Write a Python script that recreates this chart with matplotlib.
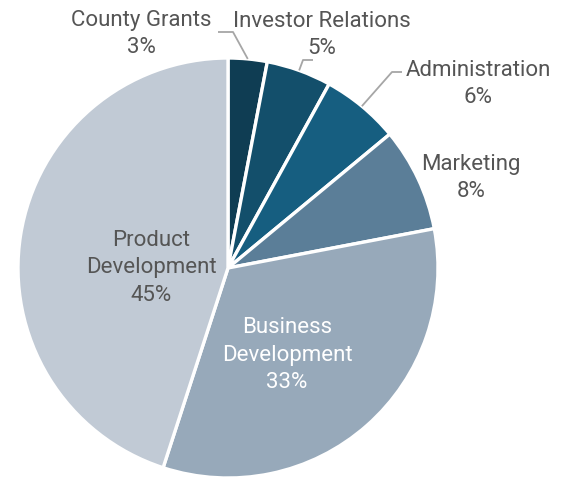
import matplotlib.pyplot as plt
import numpy as np

# data
labels = ['County Grants', 'Investor Relations', 'Administration', 'Marketing',
          'Business Development', 'Product Development']
shares = [3, 5, 6, 8, 33, 45]
colors = ['#0f3d53', '#134f6b', '#165e80', '#5b7e98', '#97a9ba', '#c1cad5']

plt.rcParams['font.family'] = ['Roboto', 'DejaVu Sans']

fig = plt.figure(figsize=(5.63, 4.8), dpi=100)
ax = fig.add_axes([0, 0, 1, 1])

cx, cy, r = 228, 480 - 268, 210
wedges, _ = ax.pie(shares, colors=colors, startangle=90, counterclock=False,
                   center=(cx, cy), radius=r, frame=True,
                   wedgeprops=dict(edgecolor='white', linewidth=2.4))
ax.set_xlim(0, 563)
ax.set_ylim(0, 480)
ax.set_aspect('equal')
ax.axis('off')

txt = '#555555'
fs = 16
ls = 1.4

def rim(w):
    a = np.deg2rad((w.theta1 + w.theta2) / 2)
    return cx + r * np.cos(a), cy + r * np.sin(a)

# outside labels with leader lines (image y -> 480 - y)
outside = [
    (0, (141, 480 - 34), [(233, 480 - 32), (218, 480 - 32)]),
    (1, (322, 480 - 35), [(303, 480 - 60), (313, 480 - 60)]),
    (2, (478, 480 - 84), [(392, 480 - 72), (402, 480 - 72)]),
    (3, (471, 480 - 178), []),
]
for i, (tx, ty), elbow in outside:
    lines = f'{labels[i]}\n{shares[i]}%'
    ax.text(tx, ty, lines, ha='center', va='center', fontsize=fs, color=txt,
            linespacing=ls)
    if elbow:
        x0, y0 = rim(wedges[i])
        xs = [x0] + [p[0] for p in elbow]
        ys = [y0] + [p[1] for p in elbow]
        ax.plot(xs, ys, color='#a6a6a6', lw=1.3, solid_capstyle='butt')

ax.text(151, 480 - 268, f'Product\nDevelopment\n{shares[5]}%', ha='center', va='center',
        fontsize=fs, color=txt, linespacing=ls)
ax.text(287, 480 - 355, f'Business\nDevelopment\n{shares[4]}%', ha='center', va='center',
        fontsize=fs, color='white', linespacing=ls)

plt.savefig('out.png', dpi=100)
